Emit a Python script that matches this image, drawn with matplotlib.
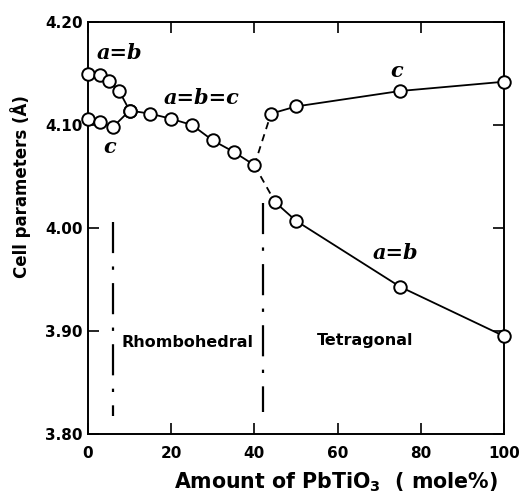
import matplotlib
matplotlib.use("Agg")
import matplotlib.pyplot as plt

plt.rcParams['font.family'] = ['DejaVu Sans']
plt.rcParams['mathtext.fontset'] = 'custom'
plt.rcParams['mathtext.rm'] = 'DejaVu Sans:bold'
plt.rcParams['mathtext.bf'] = 'DejaVu Sans:bold'

# Rhombohedral region, split branches
rh_ab_x = [0, 3, 5, 7.5, 10]
rh_ab_y = [4.150, 4.149, 4.143, 4.133, 4.114]
rh_c_x = [0, 3, 6]
rh_c_y = [4.106, 4.103, 4.098]
# Rhombohedral a=b=c
rh_abc_x = [10, 15, 20, 25, 30, 35, 40]
rh_abc_y = [4.114, 4.111, 4.106, 4.100, 4.085, 4.074, 4.061]
# Tetragonal
tet_c_x = [44, 50, 75, 100]
tet_c_y = [4.111, 4.118, 4.133, 4.142]
tet_ab_x = [45, 50, 75, 100]
tet_ab_y = [4.025, 4.007, 3.943, 3.895]

# Phase boundaries (dash-dot)
bound1_x = [6, 6]
bound1_y = [4.006, 3.817]
bound2_x = [42, 42]
bound2_y = [4.024, 3.821]

xticks = [0, 20, 40, 60, 80, 100]
yticks = [3.80, 3.90, 4.00, 4.10, 4.20]
ytick_labels = ['3.80', '3.90', '4.00', '4.10', '4.20']

fig = plt.figure(figsize=(5.23, 4.96), dpi=100)
ax = fig.add_axes([88/523, 1-434/496, (504-88)/523, (434-22)/496])

lw = 1.3
mk = dict(marker='o', markersize=9, markerfacecolor='white',
          markeredgecolor='black', markeredgewidth=1.4, color='black', lw=lw,
          clip_on=False, zorder=3)

ax.plot(rh_ab_x, rh_ab_y, **mk)
ax.plot(rh_c_x, rh_c_y, **mk)
# connection of c-branch to merged point
ax.plot([rh_c_x[-1], rh_abc_x[0]], [rh_c_y[-1], rh_abc_y[0]], color='black', lw=lw, zorder=2)
ax.plot(rh_abc_x, rh_abc_y, **mk)
ax.plot(tet_c_x, tet_c_y, **mk)
ax.plot(tet_ab_x, tet_ab_y, **mk)
# dashed transitions
ax.plot([rh_abc_x[-1], tet_c_x[0]], [rh_abc_y[-1], tet_c_y[0]], color='black', lw=lw,
        ls=(0, (4, 3)), zorder=2)
ax.plot([rh_abc_x[-1], tet_ab_x[0]], [rh_abc_y[-1], tet_ab_y[0]], color='black', lw=lw,
        ls=(0, (4, 3)), zorder=2)

dashdot = (0, (14, 6, 1.5, 6))
ax.plot(bound1_x, bound1_y, color='black', lw=1.6, ls=dashdot)
ax.plot(bound2_x, bound2_y, color='black', lw=1.6, ls=dashdot)

ax.set_xlim(0, 100)
ax.set_ylim(3.80, 4.20)
ax.set_xticks(xticks)
ax.set_xticklabels([str(v) for v in xticks])
ax.set_yticks(yticks)
ax.set_yticklabels(ytick_labels)
ax.tick_params(direction='in', length=8, width=1.2, top=True, right=True,
               labelsize=11)
ax.tick_params(axis='x', pad=9)
ax.tick_params(axis='y', pad=4)
for lab in ax.get_xticklabels() + ax.get_yticklabels():
    lab.set_fontweight('bold')
for s in ax.spines.values():
    s.set_linewidth(1.4)

lbl = dict(family=['DejaVu Serif'], style='italic',
           weight='bold', fontsize=15, ha='center', va='center')
ax.text(7.6, 4.170, 'a=b', **lbl)
ax.text(5.3, 4.079, 'c', **lbl)
ax.text(27.4, 4.126, 'a=b=c', **lbl)
ax.text(74.2, 4.152, 'c', **lbl)
ax.text(74.0, 3.976, 'a=b', **lbl)

ax.text(23.8, 3.889, 'Rhombohedral', fontsize=11.5, fontweight='bold',
        ha='center', va='center')
ax.text(66.6, 3.891, 'Tetragonal', fontsize=11.5, fontweight='bold',
        ha='center', va='center')

fig.text(336/523, 1-482/496, r'Amount of PbTiO$_{3}$  ( mole%)', fontsize=14.8,
         fontweight='bold', ha='center', va='center')
fig.text(21/523, 1-187/496, 'Cell parameters (Å)', fontsize=12,
         fontweight='bold', ha='center', va='center', rotation=90)

fig.savefig('out.png', dpi=100)
